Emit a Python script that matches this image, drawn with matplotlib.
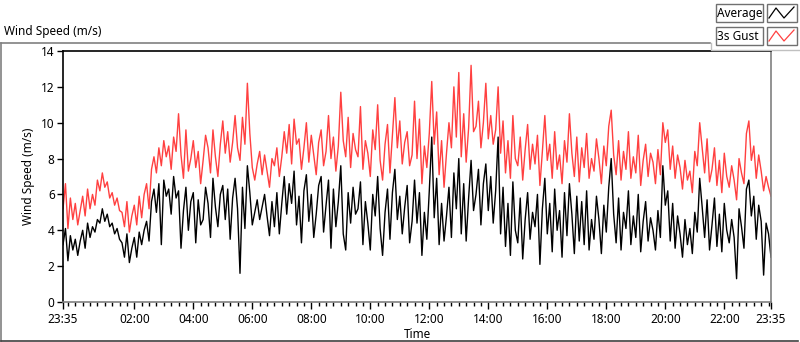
import matplotlib
matplotlib.use("Agg")
import matplotlib.pyplot as plt
from matplotlib.lines import Line2D
from matplotlib.patches import Rectangle
import numpy as np

plt.rcParams['font.family'] = ['Noto Sans', 'DejaVu Sans']

# Data: 5-minute samples, 23:35 -> 23:35 next day (289 points)
gust = [
    5.2, 6.6, 4.1, 5.8, 4.6, 5.5, 4.3, 5.1, 5.9, 4.8, 6.3, 5.2, 6.0, 5.4, 6.8, 6.2, 7.2, 6.4, 6.7, 5.8, 6.1, 5.4, 5.8, 5.1,
    5.0, 4.2, 5.6, 3.9, 4.8, 5.4, 4.3, 5.9, 4.7, 6.0, 6.6, 5.2, 7.4, 8.1, 7.2, 8.6, 7.6, 9.0, 8.1, 8.7, 7.4, 9.2, 8.4, 10.5,
    8.2, 6.9, 9.6, 7.3, 8.0, 9.0, 7.5, 8.4, 6.6, 7.9, 9.3, 8.6, 7.2, 9.6, 8.1, 7.0, 8.8, 10.1, 8.3, 9.5, 7.8, 8.9, 10.4, 8.6,
    7.9, 10.3, 8.8, 12.2, 9.4, 7.5, 6.8, 7.7, 8.4, 7.1, 8.2, 7.3, 6.4, 8.0, 7.6, 8.6, 7.0, 8.1, 9.5, 8.3, 9.9, 7.7, 10.2, 8.8,
    9.1, 7.4, 8.6, 10.0, 7.8, 9.3, 8.2, 7.1, 8.9, 9.6, 7.6, 8.4, 10.4, 8.0, 9.2, 7.3, 8.7, 11.7, 9.0, 8.1, 10.3, 7.5, 9.4, 8.5,
    8.1, 10.9, 7.4, 9.0, 8.3, 7.0, 9.6, 8.5, 11.0, 7.9, 6.8, 8.8, 9.9, 7.2, 9.3, 11.4, 8.6, 10.1, 7.7, 8.9, 9.5, 7.6, 8.2, 11.2,
    8.0, 10.2, 6.6, 8.7, 7.5, 9.4, 12.3, 8.8, 10.6, 7.1, 9.0, 6.4, 8.3, 10.0, 8.6, 12.0, 9.2, 12.8, 8.1, 10.5, 7.8, 9.7, 13.2, 9.5,
    9.8, 11.2, 8.6, 10.0, 12.2, 9.1, 10.4, 8.8, 9.6, 12.0, 8.3, 10.1, 7.2, 9.0, 6.9, 10.4, 8.0, 7.6, 9.2, 6.8, 8.5, 9.9, 7.4, 8.8,
    7.7, 9.3, 6.5, 8.4, 10.4, 7.9, 8.8, 6.9, 9.5, 7.4, 8.2, 6.6, 9.0, 7.8, 10.5, 8.3, 7.0, 9.2, 6.7, 8.6, 7.5, 9.4, 6.9, 8.0,
    7.3, 9.1, 8.0, 6.6, 8.7, 7.6, 9.8, 10.7, 8.2, 7.1, 9.0, 6.8, 8.4, 7.4, 9.5, 6.9, 8.1, 7.2, 9.3, 6.5, 7.9, 8.8, 7.0, 8.3,
    7.8, 6.6, 8.5, 7.1, 10.0, 8.9, 9.6, 7.4, 8.7, 6.9, 8.2, 7.5, 6.3, 7.9, 6.8, 7.3, 6.1, 8.4, 7.6, 10.0, 8.6, 7.2, 9.1, 6.7,
    7.4, 8.6, 6.5, 7.9, 6.1, 8.3, 7.0, 6.4, 7.6, 6.8, 5.7, 8.0, 7.2, 6.6, 9.4, 10.1, 7.9, 8.7, 6.9, 8.2, 7.3, 6.2, 7.0, 6.4, 5.9,
]
average = [
    3.2, 4.1, 2.3, 3.7, 2.9, 3.5, 2.6, 3.4, 4.0, 3.0, 4.4, 3.6, 4.2, 3.9, 4.6, 4.4, 5.2, 4.5, 4.9, 4.2, 4.4, 3.8, 4.1, 3.5,
    3.3, 2.5, 3.8, 2.2, 3.0, 3.6, 2.5, 3.9, 3.2, 4.0, 4.5, 3.4, 5.6, 6.3, 5.0, 6.6, 3.2, 6.8, 5.9, 6.3, 4.9, 7.0, 5.8, 6.2,
    3.0, 5.1, 6.4, 4.0, 5.6, 6.1, 3.3, 5.7, 4.3, 4.6, 6.4, 5.5, 3.6, 6.9, 5.3, 4.2, 6.0, 6.5, 4.6, 6.3, 3.5, 5.8, 6.9, 5.2,
    1.6, 6.4, 4.1, 7.6, 6.1, 4.3, 5.0, 5.7, 4.6, 5.3, 6.0, 4.8, 3.7, 5.6, 4.2, 6.1, 3.8, 5.5, 7.0, 4.9, 6.6, 5.5, 7.3, 4.3,
    5.9, 3.3, 6.2, 7.1, 4.5, 6.0, 3.6, 4.9, 6.5, 7.0, 3.9, 5.4, 6.8, 3.0, 6.3, 4.2, 5.6, 7.6, 3.8, 2.9, 6.1, 4.4, 6.4, 4.9,
    5.2, 6.7, 3.2, 5.6, 4.4, 2.9, 6.0, 4.8, 7.0, 4.1, 2.6, 5.0, 6.3, 3.5, 6.1, 7.4, 4.6, 5.9, 3.8, 5.3, 6.5, 3.3, 4.5, 6.8,
    4.4, 6.1, 2.6, 5.0, 3.5, 6.2, 9.2, 4.7, 6.9, 3.2, 5.5, 3.4, 4.8, 6.4, 3.6, 7.2, 5.2, 8.0, 3.8, 6.6, 3.4, 5.8, 7.9, 5.1,
    6.0, 7.4, 4.3, 6.6, 7.7, 5.1, 7.0, 4.4, 6.2, 9.2, 3.8, 6.4, 3.1, 5.5, 2.6, 6.7, 4.0, 3.3, 5.8, 2.4, 4.6, 6.1, 3.5, 5.0,
    4.2, 6.0, 2.1, 5.2, 6.9, 3.8, 5.5, 2.8, 6.3, 4.0, 5.1, 2.5, 6.1, 3.7, 6.6, 4.9, 2.7, 5.9, 3.4, 5.6, 3.2, 6.2, 2.9, 4.6,
    3.5, 5.9, 4.6, 2.7, 5.4, 3.9, 6.4, 8.0, 4.9, 3.3, 5.8, 2.9, 5.0, 4.1, 6.2, 3.2, 4.8, 3.6, 6.0, 2.8, 4.5, 5.6, 3.4, 4.7,
    4.0, 2.9, 5.1, 3.6, 7.6, 5.4, 6.2, 3.4, 5.5, 3.0, 4.8, 3.8, 2.5, 4.6, 3.2, 4.1, 2.7, 5.0, 3.9, 6.9, 5.3, 3.6, 5.7, 2.9,
    4.3, 5.8, 3.1, 4.9, 2.8, 5.5, 4.0, 3.3, 4.6, 3.6, 1.3, 5.2, 4.2, 3.0, 6.3, 6.8, 4.8, 5.9, 3.5, 5.4, 4.5, 1.5, 4.4, 3.8, 2.5,
]
sample_minutes = 5
start_label = "23:35"
hour_labels = ["02:00", "04:00", "06:00", "08:00", "10:00", "12:00",
               "14:00", "16:00", "18:00", "20:00", "22:00"]
series_names = ["Average", "3s Gust"]
y_ticks = [0, 2, 4, 6, 8, 10, 12, 14]

W, H = 800, 342
fig = plt.figure(figsize=(W / 100, H / 100), dpi=100)
fig.patch.set_facecolor("white")

def fx(x):
    return x / W

def fy(y):
    return 1 - y / H

ax = fig.add_axes([fx(63), fy(302), fx(771) - fx(63), fy(51) - fy(302)])

t = np.arange(len(gust)) * sample_minutes
ax.plot(t, gust, color="#ff4040", lw=1.0)
ax.plot(t, average, color="black", lw=1.0)

total = t[-1]
ax.set_xlim(0, total)
ax.set_ylim(0, 14)

# x ticks
start_min = 23 * 60 + 35
major_pos = [0]
for lab in hour_labels:
    h, m = map(int, lab.split(":"))
    major_pos.append((h * 60 + m - start_min) % 1440)
major_pos.append(total)
ax.set_xticks(major_pos)
ax.set_xticklabels([start_label] + hour_labels + [start_label])
minor = [m for m in range(0, total + 1) if (m + start_min) % 15 == 0]
ax.set_xticks(minor, minor=True)
ax.set_yticks(y_ticks)
ax.set_yticklabels([str(v) for v in y_ticks])

ax.tick_params(axis="x", which="major", direction="out", length=5, width=1, labelsize=8.5, pad=3, color="black")
ax.tick_params(axis="x", which="minor", direction="out", length=3, width=1, color="black")
ax.tick_params(axis="y", which="major", direction="out", length=4, width=1, labelsize=8.5, pad=2, color="black")

for s in ["top", "left"]:
    ax.spines[s].set_color("black")
    ax.spines[s].set_linewidth(1.2)
for s in ["right", "bottom"]:
    ax.spines[s].set_color("#808080")
    ax.spines[s].set_linewidth(1.2)

ax.set_xlabel("Time", fontsize=8.5, labelpad=1)
ax.set_ylabel("Wind Speed (m/s)", fontsize=8.5, labelpad=4)

# outer panel
fig.text(fx(4), fy(31), "Wind Speed (m/s)", fontsize=8.5, ha="left", va="center")
fig.add_artist(Line2D([fx(0.5), fx(710)], [fy(42.5), fy(42.5)], color="#808080", lw=1.2))
fig.add_artist(Line2D([fx(0.8), fx(0.8)], [fy(42.5), fy(341)], color="#808080", lw=1.2))
fig.add_artist(Line2D([fx(0.5), fx(798)], [fy(340.5), fy(340.5)], color="#404040", lw=1.2))
fig.add_artist(Line2D([fx(711), fx(711), fx(799)], [fy(42.5), fy(50), fy(50)], color="#c0c0c0", lw=1.0))

# legend boxes
colors = ["black", "#ff4040"]
for i, (name, c) in enumerate(zip(series_names, colors)):
    y0 = 4 + i * 23
    fig.add_artist(Rectangle((fx(715.5), fy(y0 + 18)), fx(763) - fx(715.5), fy(y0) - fy(y0 + 18),
                             facecolor="white", edgecolor="#707070", lw=1.0))
    fig.text(fx(717), fy(y0 + 9), name, fontsize=8.5, ha="left", va="center")
    fig.add_artist(Rectangle((fx(766.5), fy(y0 + 18)), fx(797) - fx(766.5), fy(y0) - fy(y0 + 18),
                             facecolor="white", edgecolor="#707070", lw=1.0))
    xs = [fx(769), fx(776), fx(784), fx(794)]
    ys = [fy(y0 + 14), fy(y0 + 4), fy(y0 + 14), fy(y0 + 3)]
    fig.add_artist(Line2D(xs, ys, color=c, lw=0.9))

fig.savefig("out.png", dpi=100, facecolor="white")
